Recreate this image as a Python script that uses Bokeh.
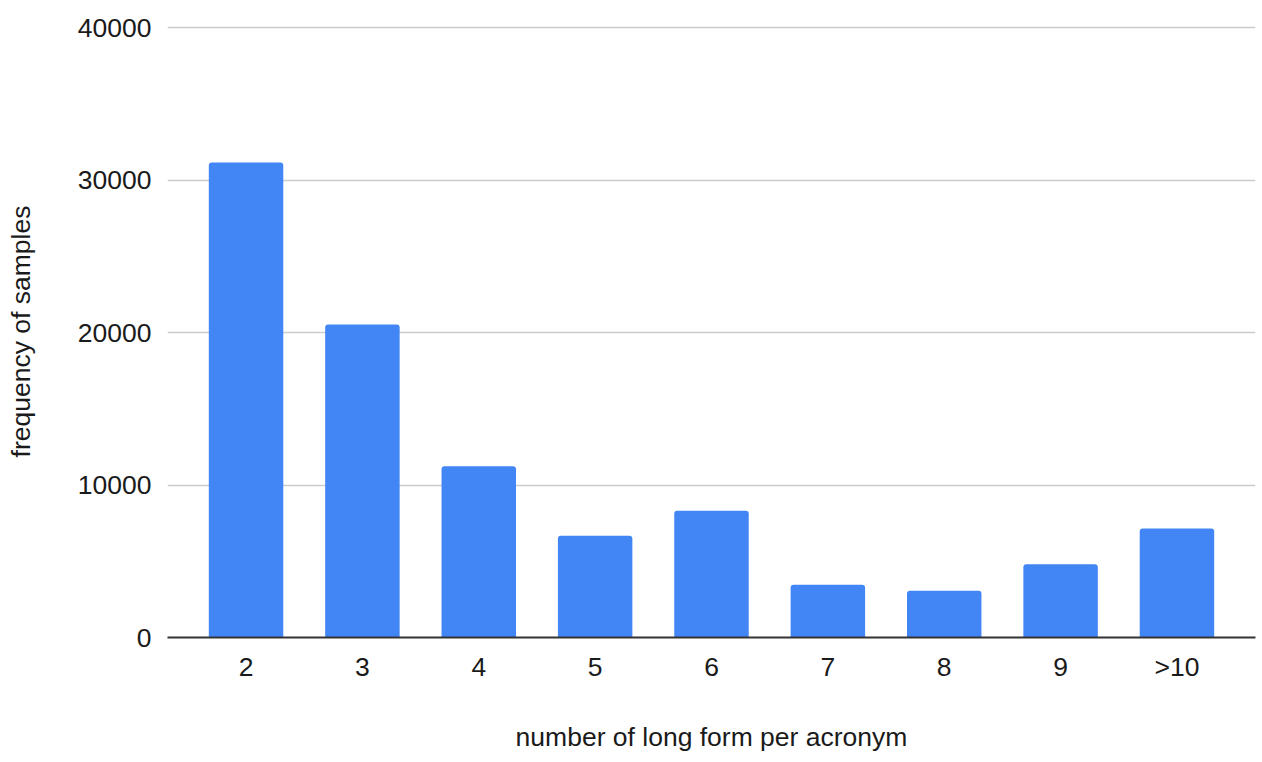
from bokeh.plotting import figure
from bokeh.models import Range1d, FixedTicker
from bokeh.embed import file_html
from bokeh.resources import INLINE

categories = ["2", "3", "4", "5", "6", "7", "8", "9", ">10"]
frequency = [31170, 20530, 11230, 6670, 8310, 3460, 3060, 4810, 7150]
y_ticks = [0, 10000, 20000, 30000, 40000]

xs = list(range(len(categories)))

FONT = "Liberation Sans"
TXT = "#1a1a1a"
FS = "26.5px"

p = figure(width=1258, height=762, output_backend="svg", toolbar_location=None,
           x_range=Range1d(-0.675, len(categories) - 1 + 0.675),
           y_range=Range1d(0, 40150),
           min_border_left=167, min_border_right=3, min_border_top=25, min_border_bottom=125)
p.outline_line_color = None
p.background_fill_color = "white"
p.border_fill_color = "white"

p.vbar(x=xs, top=frequency, width=0.64, bottom=0,
       fill_color="#4285F4", line_color=None, border_radius=(3, 3, 0, 0))

p.xgrid.grid_line_color = None
p.ygrid.ticker = FixedTicker(ticks=y_ticks)
p.ygrid.grid_line_color = "#cccccc"
p.ygrid.grid_line_width = 1.5

p.xaxis.ticker = FixedTicker(ticks=xs)
p.xaxis.major_label_overrides = {i: c for i, c in enumerate(categories)}
p.yaxis.ticker = FixedTicker(ticks=y_ticks)

for ax in (p.xaxis, p.yaxis):
    ax.major_tick_line_color = None
    ax.minor_tick_line_color = None
    ax.major_tick_out = 0
    ax.major_tick_in = 0
    ax.minor_tick_out = 0
    ax.minor_tick_in = 0
    ax.major_label_text_font = FONT
    ax.major_label_text_font_size = FS
    ax.major_label_text_color = TXT
    ax.axis_label_text_font = FONT
    ax.axis_label_text_font_size = FS
    ax.axis_label_text_font_style = "normal"
    ax.axis_label_text_color = TXT

p.yaxis.axis_line_color = None
p.yaxis.major_label_standoff = 16
p.yaxis.axis_label = "frequency of samples"
p.yaxis.axis_label_standoff = 39

p.xaxis.axis_line_color = "#333333"
p.xaxis.axis_line_width = 2
p.xaxis.major_label_standoff = 14
p.xaxis.axis_label = "number of long form per acronym"
p.xaxis.axis_label_standoff = 37

open("out.html", "w").write(file_html(p, INLINE))
